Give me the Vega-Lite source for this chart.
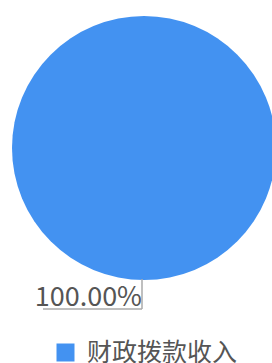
{
  "$schema": "https://vega.github.io/schema/vega-lite/v6.json",
  "autosize": "none",
  "width": 256,
  "height": 296,
  "padding": {"left": 16, "top": 0, "right": 0, "bottom": 67},
  "background": "white",
  "view": {"stroke": null},
  "data": {"values": [{"category": "财政拨款收入", "share": 1}]},
  "layer": [
    {
      "mark": {"type": "arc", "outerRadius": 132, "stroke": null},
      "encoding": {
        "theta": {"field": "share", "type": "quantitative", "stack": true},
        "color": {
          "field": "category",
          "type": "nominal",
          "scale": {"range": ["#4392F1"]},
          "legend": {
            "orient": "none",
            "legendX": 37,
            "legendY": 340,
            "title": null,
            "symbolType": "square",
            "symbolSize": 324,
            "symbolStrokeWidth": 0,
            "labelFontSize": 25,
            "labelFont": "Noto Sans CJK SC",
            "labelColor": "#555555",
            "labelOffset": 9
          }
        }
      }
    },
    {
      "mark": {"type": "text", "radius": 158, "align": "right", "baseline": "alphabetic", "fontSize": 27, "font": "Noto Sans CJK SC", "color": "#555555", "dx": -2},
      "encoding": {
        "theta": {"field": "share", "type": "quantitative", "stack": true},
        "text": {"field": "share", "type": "quantitative", "format": ".2%"}
      }
    },
    {
      "mark": {"type": "rule", "color": "#aaaaaa", "strokeWidth": 1.5},
      "encoding": {
        "x": {"datum": -2, "type": "quantitative", "scale": {"domain": [-128, 128]}, "axis": null},
        "y": {"datum": -131, "type": "quantitative", "scale": {"domain": [-148, 148]}, "axis": null},
        "y2": {"datum": -161}
      }
    },
    {
      "mark": {"type": "rule", "color": "#aaaaaa", "strokeWidth": 1.5},
      "encoding": {
        "x": {"datum": -101, "type": "quantitative", "scale": {"domain": [-128, 128]}, "axis": null},
        "x2": {"datum": -2},
        "y": {"datum": -161, "type": "quantitative", "scale": {"domain": [-148, 148]}, "axis": null}
      }
    }
  ]
}
